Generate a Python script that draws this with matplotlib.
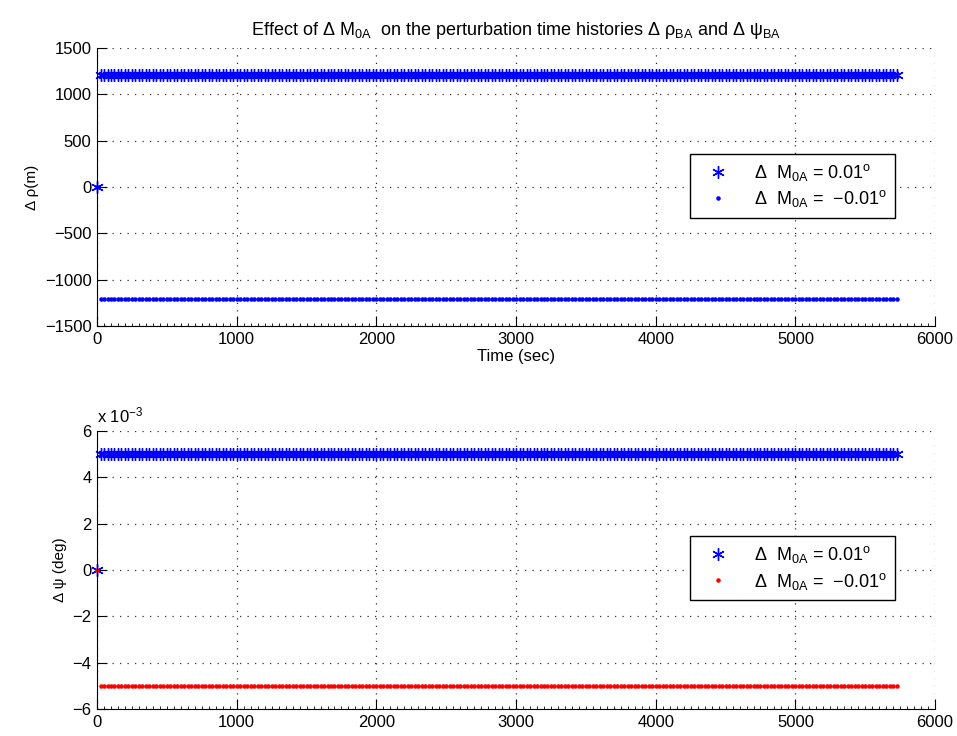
import numpy as np
import matplotlib.pyplot as plt
from matplotlib.ticker import FuncFormatter, MultipleLocator

plt.rcParams['font.family'] = ['Liberation Sans', 'DejaVu Sans']
plt.rcParams['mathtext.fontset'] = 'custom'
plt.rcParams['mathtext.rm'] = 'Liberation Sans'
plt.rcParams['mathtext.it'] = 'Liberation Sans'
plt.rcParams['mathtext.bf'] = 'Liberation Sans'

# time samples (sec), one every 25 s over one orbit
t = np.arange(0, 5740, 25)
n_pts = len(t)

# perturbation histories (first sample is 0)
rho_pos = [0.0] + [1210.0] * (n_pts - 1)
rho_neg = [0.0] + [-1210.0] * (n_pts - 1)
psi_pos = [0.0] + [5.0e-3] * (n_pts - 1)
psi_neg = [0.0] + [-5.0e-3] * (n_pts - 1)

lbl_pos = r'$\Delta$  M$_{0A}$ = 0.01$^{o}$'
lbl_neg = r'$\Delta$  M$_{0A}$ =  −0.01$^{o}$'

asterisk = (6, 2, 0)

fig = plt.figure(figsize=(9.57, 7.36), dpi=100)
ax1 = fig.add_axes([0.1014, 0.557, 0.8757, 0.3778])
ax2 = fig.add_axes([0.1014, 0.0367, 0.8757, 0.3777])


def style_axes(ax):
    ax.grid(True, linestyle=(0, (1, 5)), color='0.2', linewidth=0.9)
    ax.set_axisbelow(True)
    ax.spines['top'].set_visible(False)
    ax.spines['right'].set_visible(False)
    ax.tick_params(direction='in', length=7, width=0.8, labelsize=12, pad=4)
    ax.tick_params(which='minor', direction='in', length=2.5, width=0.6)
    ax.xaxis.set_minor_locator(MultipleLocator(50))
    ax.set_xlim(0, 6000)
    ax.set_xticks(np.arange(0, 6001, 1000))


def add_legend(ax, top):
    leg = ax.legend(loc='upper right', bbox_to_anchor=(0.952, top), borderaxespad=0,
                    fontsize=13, fancybox=False, edgecolor='black', framealpha=1,
                    handletextpad=0.9, borderpad=0.45, labelspacing=0.3,
                    handlelength=2.2)
    leg.get_frame().set_linewidth(1.0)


# top: delta rho
ax1.plot(t, rho_pos, linestyle='none', marker=asterisk, markersize=9,
         markeredgewidth=1.0, color='blue', label=lbl_pos, clip_on=False)
ax1.plot(t, rho_neg, linestyle='none', marker='.', markersize=4.5,
         color='blue', label=lbl_neg, clip_on=False)
style_axes(ax1)
ax1.set_ylim(-1500, 1500)
ax1.set_yticks(np.arange(-1500, 1501, 500))
ax1.set_xlabel('Time (sec)', fontsize=12, labelpad=2)
ax1.set_ylabel('Δ ρ(m)', fontsize=11)
ax1.set_title(r'Effect of $\Delta$ M$_{0A}$  on the perturbation time histories '
              r'$\Delta$ ρ$_{BA}$ and $\Delta$ ψ$_{BA}$', fontsize=13, pad=9)
add_legend(ax1, 0.619)

# bottom: delta psi
ax2.plot(t, psi_pos, linestyle='none', marker=asterisk, markersize=9,
         markeredgewidth=1.0, color='blue', label=lbl_pos, clip_on=False)
ax2.plot(t, psi_neg, linestyle='none', marker='.', markersize=4.5,
         color='red', label=lbl_neg, clip_on=False)
style_axes(ax2)
ax2.set_ylim(-6e-3, 6e-3)
ax2.set_yticks(np.arange(-6, 7, 2) * 1e-3)
ax2.yaxis.set_major_formatter(FuncFormatter(lambda v, p: f'{v * 1e3:.0f}'.replace('-', '−')))
ax2.set_ylabel('Δ ψ (deg)', fontsize=11)
ax2.text(0.0, 1.02, r'x 10$^{-3}$', transform=ax2.transAxes, fontsize=12,
         ha='left', va='bottom')
add_legend(ax2, 0.622)

fig.savefig('out.png', dpi=100)
